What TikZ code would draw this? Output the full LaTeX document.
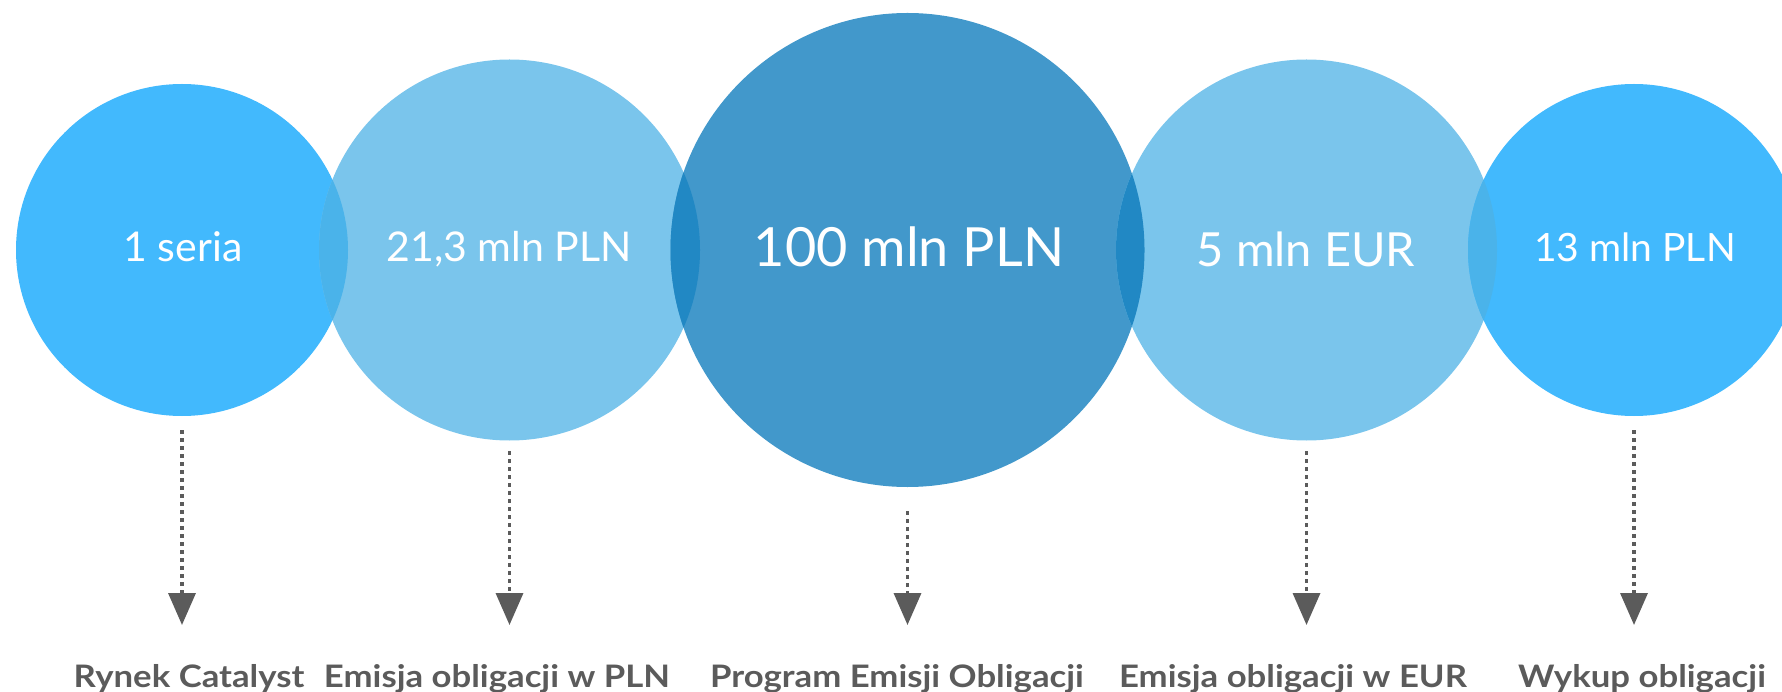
\documentclass[tikz,border=0pt]{standalone}
\usepackage{fontspec}
\setmainfont{Lato}
\newfontfamily\labfont{Lato}[FakeStretch=1.12]
\usetikzlibrary{arrows.meta}
\definecolor{cbright}{HTML}{42B9FD}
\definecolor{clight}{HTML}{7AC5EC}
\definecolor{cdark}{HTML}{4298CB}
\definecolor{ovA}{HTML}{4AB3EA}
\definecolor{ovB}{HTML}{2188C4}
\definecolor{cgray}{HTML}{5B5B5B}
\begin{document}
\begin{tikzpicture}[x=1pt,y=-1pt,
  bubble/.style={circle,inner sep=0pt,draw=none},
  val/.style={text=white,anchor=base,inner sep=0pt},
  lab/.style={text=cgray,anchor=base,inner sep=0pt,font=\labfont\fontsize{31}{36}\selectfont\bfseries},
  conn/.style={draw=cgray,line width=3.5pt,dash pattern=on 4pt off 4pt,
    -{Triangle[width=27pt,length=32pt]}}]
\useasboundingbox (0,0) rectangle (1782,692);
% circles
\node[bubble,fill=cbright,minimum size=332pt] (c1) at (182,250) {};
\node[bubble,fill=clight,minimum size=381pt] (c2) at (509.5,250) {};
\node[bubble,fill=cdark,minimum size=474pt] (c3) at (907.5,250) {};
\node[bubble,fill=clight,minimum size=381pt] (c4) at (1306.5,250) {};
\node[bubble,fill=cbright,minimum size=332pt] (c5) at (1634,250) {};
% overlaps
\begin{scope}
  \clip (182,250) circle[radius=166pt];
  \fill[ovA] (509.5,250) circle[radius=190.5pt];
\end{scope}
\begin{scope}
  \clip (509.5,250) circle[radius=190.5pt];
  \fill[ovB] (907.5,250) circle[radius=237pt];
\end{scope}
\begin{scope}
  \clip (907.5,250) circle[radius=237pt];
  \fill[ovB] (1306.5,250) circle[radius=190.5pt];
\end{scope}
\begin{scope}
  \clip (1306.5,250) circle[radius=190.5pt];
  \fill[ovA] (1634,250) circle[radius=166pt];
\end{scope}
% values
\node[val,font=\fontsize{41}{48}\selectfont] (v1) at (183,262) {1 seria};
\node[val,font=\fontsize{41}{48}\selectfont] (v2) at (509,262) {21,3 mln PLN};
\node[val,font=\fontsize{54}{64}\selectfont] (v3) at (909,267) {100 mln PLN};
\node[val,font=\fontsize{47}{56}\selectfont] (v4) at (1306,267) {5 mln EUR};
\node[val,font=\fontsize{39}{46}\selectfont] (v5) at (1635,262) {13 mln PLN};
% labels
\node[lab] (l1) at (189,687) {Rynek Catalyst};
\node[lab] (l2) at (497,687) {Emisja obligacji w PLN};
\node[lab] (l3) at (897,687) {Program Emisji Obligacji};
\node[lab] (l4) at (1293,687) {Emisja obligacji w EUR};
\node[lab] (l5) at (1642,687) {Wykup obligacji};
% connector ends
\coordinate (s1) at (182,430); \coordinate (e1) at (182,625);
\coordinate (s2) at (509.5,451); \coordinate (e2) at (509.5,625);
\coordinate (s3) at (907.5,511); \coordinate (e3) at (907.5,625);
\coordinate (s4) at (1306.5,451); \coordinate (e4) at (1306.5,625);
\coordinate (s5) at (1634,430); \coordinate (e5) at (1634,625);
\draw[conn] (s1) -- (e1);
\draw[conn] (s2) -- (e2);
\draw[conn] (s3) -- (e3);
\draw[conn] (s4) -- (e4);
\draw[conn] (s5) -- (e5);
\end{tikzpicture}
\end{document}
